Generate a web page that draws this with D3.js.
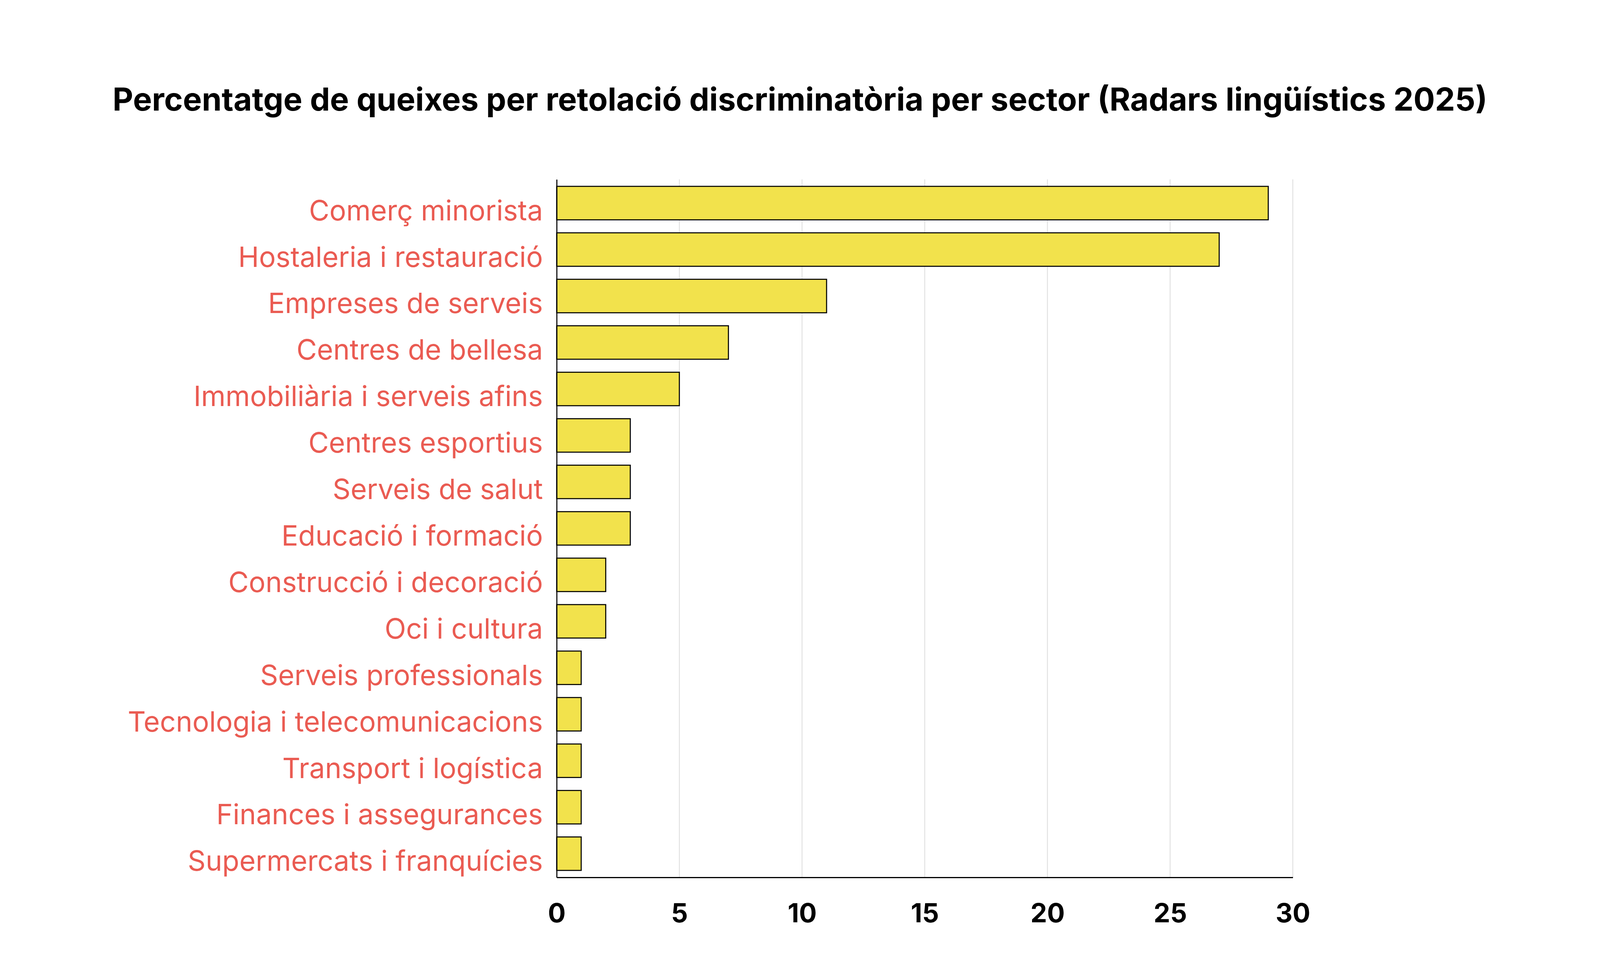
<!DOCTYPE html>
<html>
<head>
<meta charset="utf-8">
<script src="https://cdn.jsdelivr.net/npm/d3@7"></script>
<style>
  html, body { margin: 0; padding: 0; background: #fff; overflow: hidden; }
  #chart { display: block; }
  svg text { font-family: Inter, "Noto Sans", sans-serif; }
</style>
</head>
<body>
<svg id="chart"></svg>
<script>
// sectors, top to bottom
let sectors = [
  'Comerç minorista',
  'Hostaleria i restauració',
  'Empreses de serveis',
  'Centres de bellesa',
  'Immobiliària i serveis afins',
  'Centres esportius',
  'Serveis de salut',
  'Educació i formació',
  'Construcció i decoració',
  'Oci i cultura',
  'Serveis professionals',
  'Tecnologia i telecomunicacions',
  'Transport i logística',
  'Finances i assegurances',
  'Supermercats i franquícies'
];
let percents = [29, 27, 11, 7, 5, 3, 3, 3, 2, 2, 1, 1, 1, 1, 1];
let xTicks = [0, 5, 10, 15, 20, 25, 30];
let title = 'Percentatge de queixes per retolació discriminatòria per sector (Radars lingüístics 2025)';

// layout was measured on a 5349 x 2482 picture; stretch it to the real window
let REF_W = 5349, REF_H = 2482;
let W = window.innerWidth || REF_W, H = window.innerHeight || REF_H;
let sx = W / REF_W, sy = H / REF_H, s = Math.min(sx, sy);

let margin = {top: 459 * sy, right: (REF_W - 4322) * sx, bottom: (REF_H - 2245) * sy, left: 1861 * sx};
let width = W - margin.left - margin.right,
    height = H - margin.top - margin.bottom;

let svg = d3.select('#chart')
  .attr('width', W)
  .attr('height', H);

let g = svg.append('g')
  .attr('transform', 'translate(' + margin.left + ',' + margin.top + ')');

let x = d3.scaleLinear().domain([0, 30]).range([0, width]);
let y = d3.scaleBand().domain(sectors).range([0, height])
  .paddingInner(0.28).paddingOuter(0.15);

// grid lines
g.selectAll('.grid')
  .data(xTicks.slice(1))
  .enter().append('line')
  .attr('class', 'grid')
  .attr('x1', d => x(d)).attr('x2', d => x(d))
  .attr('y1', 0).attr('y2', height)
  .attr('stroke', '#e0e0e0')
  .attr('stroke-width', 3 * s);

// bars
g.selectAll('.bar')
  .data(sectors)
  .enter().append('rect')
  .attr('class', 'bar')
  .attr('x', x(0))
  .attr('y', d => y(d))
  .attr('width', (d, i) => x(percents[i]) - x(0))
  .attr('height', y.bandwidth())
  .attr('fill', '#f2e24c')
  .attr('stroke', '#000')
  .attr('stroke-width', 3.5 * s);

// y axis
let yAxis = g.append('g')
  .call(d3.axisLeft(y).tickSize(0).tickPadding(46 * sx));
yAxis.select('.domain').attr('stroke', '#000').attr('stroke-width', 3.5 * s);
yAxis.selectAll('text')
  .attr('fill', '#ea5b52')
  .attr('dy', null)
  .attr('y', 44 * sy)
  .style('font-size', (88 * s) + 'px')
  .style('font-weight', 400);

// x axis
let xAxis = g.append('g')
  .attr('transform', 'translate(0,' + height + ')')
  .call(d3.axisBottom(x).tickValues(xTicks).tickSize(0));
xAxis.select('.domain').attr('stroke', '#000').attr('stroke-width', 4 * s);
xAxis.selectAll('text')
  .attr('fill', '#000')
  .attr('dy', null)
  .attr('y', 115 * sy)
  .style('font-size', (88 * sx) + 'px')
  .style('font-weight', 700);

// title
let titleText = svg.append('text')
  .attr('x', W / 2)
  .attr('y', 283 * sy)
  .attr('text-anchor', 'middle')
  .attr('fill', '#000')
  .style('font-size', (98 * s) + 'px')
  .style('font-weight', 700)
  .text(title);

// fit substitute fonts to the widths of the original
let tw = titleText.node().getComputedTextLength();
titleText.style('font-size', (98 * s * 4596 * sx / tw) + 'px');

let longest = yAxis.selectAll('text').filter(d => d === 'Tecnologia i telecomunicacions').node();
let lw = longest.getComputedTextLength();
yAxis.selectAll('text').style('font-size', (88 * s * 1388 * sx / lw) + 'px');
</script>
</body>
</html>
